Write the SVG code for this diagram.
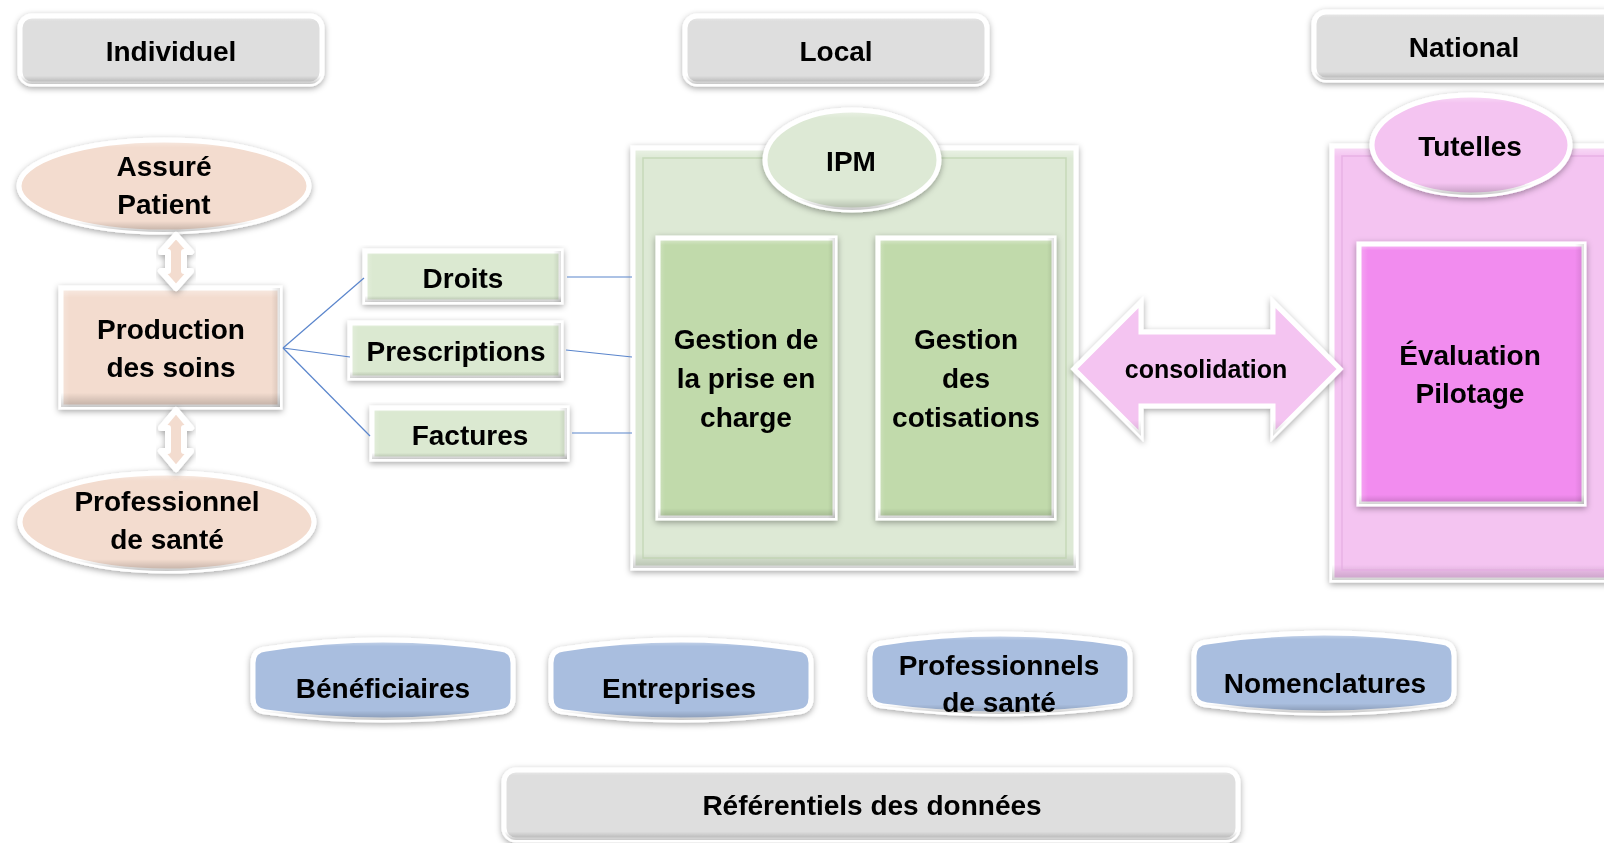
<svg xmlns="http://www.w3.org/2000/svg" width="1604" height="843" viewBox="0 0 1604 843">
<defs>
<style>
.t{font-family:"Liberation Sans",Arial,sans-serif;font-weight:bold;font-size:28px;fill:#000;text-anchor:middle}
.s{font-size:25px}
.w{stroke:#fff;stroke-width:5}
.aw{stroke:#fff;stroke-width:6;stroke-linejoin:round}
.grey{fill:#dedede}
.peach{fill:#f3dccf}
.lg{fill:#dbe9d1}
.cont{fill:#dde9d5}
.mg{fill:#c1daab}
.pk{fill:#f4c4f1}
.mag{fill:#f28cef}
.blue{fill:#a9bedf}
.ln{fill:none;stroke:#5a85cc;stroke-width:1.2}
.bv{fill:url(#bv)}
.bt{fill:url(#bvT)}
.bh{fill:url(#bh)}
</style>
<filter id="sh" x="-15%" y="-15%" width="130%" height="135%">
<feGaussianBlur in="SourceAlpha" stdDeviation="3" result="b"/>
<feOffset in="b" dx="0" dy="2" result="o"/>
<feFlood flood-color="#000" flood-opacity="0.35"/>
<feComposite in2="o" operator="in" result="s"/>
<feMerge><feMergeNode in="s"/><feMergeNode in="SourceGraphic"/></feMerge>
</filter>
<linearGradient id="bv" x1="0" y1="0" x2="0" y2="1">
<stop offset="0" stop-color="#fff" stop-opacity="0.45"/>
<stop offset="0.08" stop-color="#fff" stop-opacity="0"/>
<stop offset="0.88" stop-color="#000" stop-opacity="0"/>
<stop offset="1" stop-color="#000" stop-opacity="0.22"/>
</linearGradient>
<linearGradient id="bvT" x1="0" y1="0" x2="0" y2="1">
<stop offset="0" stop-color="#fff" stop-opacity="0.45"/>
<stop offset="0.025" stop-color="#fff" stop-opacity="0"/>
<stop offset="0.965" stop-color="#000" stop-opacity="0"/>
<stop offset="1" stop-color="#000" stop-opacity="0.18"/>
</linearGradient>
<linearGradient id="bh" x1="0" y1="0" x2="1" y2="0">
<stop offset="0" stop-color="#fff" stop-opacity="0.25"/>
<stop offset="0.04" stop-color="#fff" stop-opacity="0"/>
<stop offset="0.96" stop-color="#000" stop-opacity="0"/>
<stop offset="1" stop-color="#000" stop-opacity="0.12"/>
</linearGradient>
</defs>
<rect width="1604" height="843" fill="#fff"/>

<!-- headers -->
<g id="individuel" filter="url(#sh)">
<rect class="grey w" x="20" y="16" width="302" height="68" rx="12"/>
<rect class="bv" x="20" y="16" width="302" height="68" rx="12"/>
<text class="t" x="171" y="61">Individuel</text>
</g>
<g id="local" filter="url(#sh)">
<rect class="grey w" x="685" y="16" width="302" height="68" rx="12"/>
<rect class="bv" x="685" y="16" width="302" height="68" rx="12"/>
<text class="t" x="836" y="61">Local</text>
</g>
<g id="national" filter="url(#sh)">
<rect class="grey w" x="1314" y="12" width="302" height="68" rx="12"/>
<rect class="bv" x="1314" y="12" width="302" height="68" rx="12"/>
<text class="t" x="1464" y="57">National</text>
</g>

<!-- containers -->
<g id="ipm" filter="url(#sh)">
<rect class="cont w" x="633" y="148" width="443" height="420"/>
<rect class="bt" x="633" y="148" width="443" height="420"/>
<rect x="643" y="158" width="423" height="400" fill="none" stroke="#bcd1ad" stroke-width="1.5" opacity="0.7"/>
</g>
<g id="ipm-label" filter="url(#sh)">
<ellipse class="cont w" cx="852" cy="160" rx="87" ry="50"/>
<ellipse class="bv" cx="852" cy="160" rx="87" ry="50"/>
<text class="t" x="851" y="171">IPM</text>
</g>
<g id="gestion-prise" filter="url(#sh)">
<rect class="mg w" x="658" y="238" width="177" height="280"/>
<rect class="bt" x="658" y="238" width="177" height="280"/>
<rect class="bh" x="658" y="238" width="177" height="280"/>
<text class="t" x="746" y="349">Gestion de</text>
<text class="t" x="746" y="388">la prise en</text>
<text class="t" x="746" y="427">charge</text>
</g>
<g id="gestion-cotisations" filter="url(#sh)">
<rect class="mg w" x="878" y="238" width="176" height="280"/>
<rect class="bt" x="878" y="238" width="176" height="280"/>
<rect class="bh" x="878" y="238" width="176" height="280"/>
<text class="t" x="966" y="349">Gestion</text>
<text class="t" x="966" y="388">des</text>
<text class="t" x="966" y="427">cotisations</text>
</g>

<g id="tutelles-cont" filter="url(#sh)">
<rect class="pk w" x="1332" y="146" width="300" height="434"/>
<rect class="bt" x="1332" y="146" width="300" height="434"/>
<rect x="1342" y="156" width="300" height="414" fill="none" stroke="#e3a9df" stroke-width="1.5" opacity="0.7"/>
</g>
<g id="tutelles" filter="url(#sh)">
<ellipse class="pk w" cx="1471" cy="145" rx="99" ry="50"/>
<ellipse class="bv" cx="1471" cy="145" rx="99" ry="50"/>
<text class="t" x="1470" y="156">Tutelles</text>
</g>
<g id="evaluation" filter="url(#sh)">
<rect class="mag w" x="1359" y="244" width="225" height="260"/>
<rect class="bt" x="1359" y="244" width="225" height="260"/>
<rect class="bh" x="1359" y="244" width="225" height="260"/>
<text class="t" x="1470" y="365">Évaluation</text>
<text class="t" x="1470" y="403">Pilotage</text>
</g>

<!-- left column -->
<g id="assure" filter="url(#sh)">
<ellipse class="peach w" cx="164" cy="186" rx="145" ry="46"/>
<ellipse class="bv" cx="164" cy="186" rx="145" ry="46"/>
<text class="t" x="164" y="176">Assuré</text>
<text class="t" x="164" y="214">Patient</text>
</g>
<g id="production" filter="url(#sh)">
<rect class="peach w" x="61" y="288" width="219" height="119"/>
<rect class="bv" x="61" y="288" width="219" height="119"/>
<rect class="bh" x="61" y="288" width="219" height="119"/>
<text class="t" x="171" y="339">Production</text>
<text class="t" x="171" y="377">des soins</text>
</g>
<g id="professionnel" filter="url(#sh)">
<ellipse class="peach w" cx="167" cy="522" rx="147" ry="49"/>
<ellipse class="bv" cx="167" cy="522" rx="147" ry="49"/>
<text class="t" x="167" y="511">Professionnel</text>
<text class="t" x="167" y="549">de santé</text>
</g>

<g id="droits" filter="url(#sh)">
<rect class="lg w" x="365" y="251" width="196" height="51"/>
<rect class="bv" x="365" y="251" width="196" height="51"/>
<rect class="bh" x="365" y="251" width="196" height="51"/>
<text class="t" x="463" y="288">Droits</text>
</g>
<g id="prescriptions" filter="url(#sh)">
<rect class="lg w" x="350" y="323" width="211" height="55"/>
<rect class="bv" x="350" y="323" width="211" height="55"/>
<rect class="bh" x="350" y="323" width="211" height="55"/>
<text class="t" x="456" y="361">Prescriptions</text>
</g>
<g id="factures" filter="url(#sh)">
<rect class="lg w" x="372" y="408" width="195" height="51"/>
<rect class="bv" x="372" y="408" width="195" height="51"/>
<rect class="bh" x="372" y="408" width="195" height="51"/>
<text class="t" x="470" y="445">Factures</text>
</g>

<!-- bottom row -->
<g id="beneficiaires" filter="url(#sh)">
<path class="blue w" d="M253,663 Q253,650 266,649 Q383,631 500,649 Q513,650 513,663 L513,698 Q513,711 500,712 Q383,728 266,712 Q253,711 253,698 Z"/>
<path class="bv" d="M253,663 Q253,650 266,649 Q383,631 500,649 Q513,650 513,663 L513,698 Q513,711 500,712 Q383,728 266,712 Q253,711 253,698 Z"/>
<text class="t" x="383" y="698">Bénéficiaires</text>
</g>
<g id="entreprises" filter="url(#sh)">
<path class="blue w" d="M551,663 Q551,650 564,649 Q681,631 798,649 Q811,650 811,663 L811,698 Q811,711 798,712 Q681,728 564,712 Q551,711 551,698 Z"/>
<path class="bv" d="M551,663 Q551,650 564,649 Q681,631 798,649 Q811,650 811,663 L811,698 Q811,711 798,712 Q681,728 564,712 Q551,711 551,698 Z"/>
<text class="t" x="679" y="698">Entreprises</text>
</g>
<g id="professionnels" filter="url(#sh)">
<path class="blue w" d="M870,657 Q870,644 883,643 Q1000,625 1117,643 Q1130,644 1130,657 L1130,692 Q1130,705 1117,706 Q1000,722 883,706 Q870,705 870,692 Z"/>
<path class="bv" d="M870,657 Q870,644 883,643 Q1000,625 1117,643 Q1130,644 1130,657 L1130,692 Q1130,705 1117,706 Q1000,722 883,706 Q870,705 870,692 Z"/>
<text class="t" x="999" y="675">Professionnels</text>
<text class="t" x="999" y="712">de santé</text>
</g>
<g id="nomenclatures" filter="url(#sh)">
<path class="blue w" d="M1194,656 Q1194,643 1207,642 Q1324,624 1441,642 Q1454,643 1454,656 L1454,691 Q1454,704 1441,705 Q1324,721 1207,705 Q1194,704 1194,691 Z"/>
<path class="bv" d="M1194,656 Q1194,643 1207,642 Q1324,624 1441,642 Q1454,643 1454,656 L1454,691 Q1454,704 1441,705 Q1324,721 1207,705 Q1194,704 1194,691 Z"/>
<text class="t" x="1325" y="693">Nomenclatures</text>
</g>
<g id="referentiels" filter="url(#sh)">
<rect class="grey w" x="504" y="770" width="734" height="70" rx="12"/>
<rect class="bv" x="504" y="770" width="734" height="70" rx="12"/>
<text class="t" x="872" y="815">Référentiels des données</text>
</g>

<!-- connectors -->
<g id="connectors">
<path class="ln" d="M283,348 L364,278"/>
<path class="ln" d="M283,348 L350,357"/>
<path class="ln" d="M283,348 L370,436"/>
<path class="ln" d="M567,277 L632,277"/>
<path class="ln" d="M566,350 L632,357"/>
<path class="ln" d="M572,433 L632,433"/>
<g filter="url(#sh)">
<path class="peach aw" d="M176,235 L191,252 L184,252 L184,271 L191,271 L176,288 L161,271 L168,271 L168,252 L161,252 Z"/>
<path class="peach aw" d="M176,410 L191,428 L184,428 L184,451 L191,451 L176,469 L161,451 L168,451 L168,428 L161,428 Z"/>
</g>
<g id="consolidation" filter="url(#sh)">
<path class="pk w" d="M1074,369 L1141,302 L1141,332 L1273,332 L1273,302 L1340,369 L1273,436 L1273,406 L1141,406 L1141,436 Z"/>
<path class="bv" d="M1074,369 L1141,302 L1141,332 L1273,332 L1273,302 L1340,369 L1273,436 L1273,406 L1141,406 L1141,436 Z" opacity="0.6"/>
<text class="t s" x="1206" y="378">consolidation</text>
</g>
</g>
</svg>
